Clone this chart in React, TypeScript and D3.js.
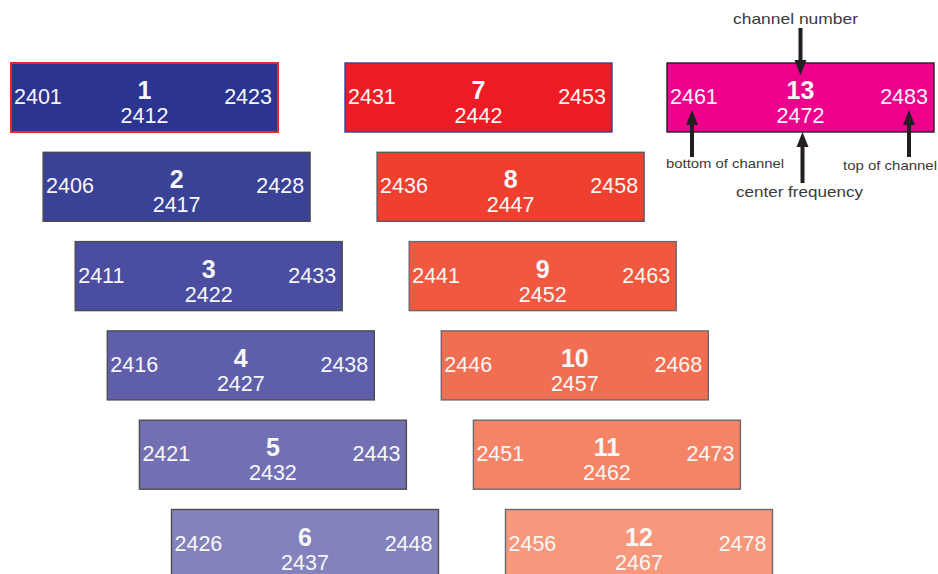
import React from "react";
import * as d3 from "d3";

// 2.4 GHz wifi channels (MHz)
const channelNumbers = [1, 2, 3, 4, 5, 6, 7, 8, 9, 10, 11, 12, 13];
const bottomFreqs = [2401, 2406, 2411, 2416, 2421, 2426, 2431, 2436, 2441, 2446, 2451, 2456, 2461];
const centerFreqs = [2412, 2417, 2422, 2427, 2432, 2437, 2442, 2447, 2452, 2457, 2462, 2467, 2472];
const topFreqs = [2423, 2428, 2433, 2438, 2443, 2448, 2453, 2458, 2463, 2468, 2473, 2478, 2483];
const fills = [
  "#2b3590", "#3a4296", "#4b4ea0", "#5e5eaa", "#7270b3", "#8482bd",
  "#ed1c24", "#ef3f2f", "#f0593f", "#f26e52", "#f58466", "#f7977b",
  "#ec008c",
];
const strokes = [
  "#e8262d", "#4d4d4d", "#4d4d4d", "#4d4d4d", "#4d4d4d", "#4d4d4d",
  "#3b3f98", "#5a5a5a", "#6a6a6a", "#6a6a6a", "#6a6a6a", "#6a6a6a",
  "#231f20",
];

const width = 938;
const height = 574;
const boxW = 267;
const boxH = 69;
const colLeft = [11, 345, 667];

const App = () => {
  // offset in MHz from the first channel of a column -> px
  const stagger = d3.scaleLinear().domain([0, 25]).range([0, 160.5]);
  const rowY = d3.scaleLinear().domain([0, 5]).range([63, 509.5]);

  const boxes = channelNumbers.map((ch, i) => {
    const col = Math.min(Math.floor(i / 6), 2);
    const row = i % 6;
    const base = bottomFreqs[col * 6];
    const x = colLeft[col] + stagger(bottomFreqs[i] - base);
    const y = rowY(row);
    return { ch, i, x, y };
  });

  const last = boxes[boxes.length - 1];
  const cx = last.x + boxW / 2;

  const arrow = (x: number, y1: number, y2: number, key: string) => {
    // tip at y2
    const dir = y2 > y1 ? 1 : -1;
    const headL = 15;
    return (
      <g key={key} fill="#231f20" stroke="#231f20">
        <line x1={x} x2={x} y1={y1} y2={y2 - dir * headL} strokeWidth={4} />
        <path
          d={`M${x - 6},${y2 - dir * headL}L${x + 6},${y2 - dir * headL}L${x},${y2}Z`}
          stroke="none"
        />
      </g>
    );
  };

  return (
    <svg
      width={width}
      height={height}
      style={{ position: "absolute", left: 0, top: 0, background: "#fff" }}
      fontFamily="'Liberation Sans', Arial, sans-serif"
    >
      {boxes.map(({ ch, i, x, y }) => (
        <g key={ch} transform={`translate(${x},${y})`}>
          <rect
            width={boxW}
            height={boxH}
            fill={fills[i]}
            stroke={strokes[i]}
            strokeWidth={i === 0 ? 2 : 1.4}
          />
          <g fill="#f7f7f7" fontSize={21.5}>
            <text x={3} y={41}>{bottomFreqs[i]}</text>
            <text x={boxW - 6} y={41} textAnchor="end">{topFreqs[i]}</text>
            <text x={boxW / 2} y={60} textAnchor="middle">{centerFreqs[i]}</text>
            <text x={boxW / 2} y={36} textAnchor="middle" fontSize={25} fontWeight="bold">
              {ch}
            </text>
          </g>
        </g>
      ))}

      <g fill="#3a3a3a">
        <text x={733} y={24} fontSize={15} textLength={125} lengthAdjust="spacingAndGlyphs">
          channel number
        </text>
        <text x={666} y={168} fontSize={13} textLength={118} lengthAdjust="spacingAndGlyphs">
          bottom of channel
        </text>
        <text x={843} y={170} fontSize={13} textLength={94} lengthAdjust="spacingAndGlyphs">
          top of channel
        </text>
        <text x={736} y={197} fontSize={15.5} textLength={127} lengthAdjust="spacingAndGlyphs">
          center frequency
        </text>
      </g>
      {arrow(cx, 28, 75, "num")}
      {arrow(last.x + 25, 157, 110, "bottom")}
      {arrow(last.x + boxW - 25, 157, 110, "top")}
      {arrow(cx + 2, 183, last.y + boxH, "center")}
    </svg>
  );
};

export default App;
